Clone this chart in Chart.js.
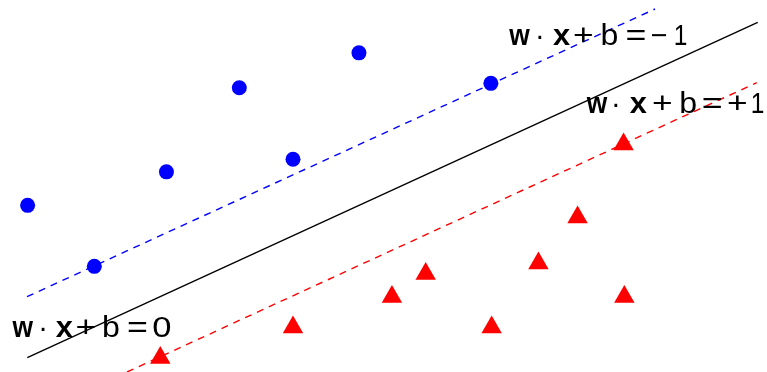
<!DOCTYPE html>
<html>
<head>
<meta charset="utf-8">
<script src="https://cdn.jsdelivr.net/npm/chart.js@4/dist/chart.umd.min.js"></script>
<style>
  html, body { margin: 0; padding: 0; background: #ffffff; }
  #wrap { width: 767px; height: 372px; }
</style>
</head>
<body>
<div id="wrap"><canvas id="c" width="767" height="372"></canvas></div>
<script>
// ---- data (abstract units: x 0..10, y 0..5) ----
const blueX = [0.36, 1.23, 2.17, 3.12, 3.82, 4.68, 6.40];
const blueY = [2.24, 1.42, 2.69, 3.82, 2.86, 4.29, 3.88];

const redX = [2.09, 3.82, 5.11, 5.55, 6.41, 7.02, 7.53, 8.14, 8.13];
const redY = [0.19, 0.60, 1.01, 1.32, 0.60, 1.46, 2.08, 1.01, 3.06];

const hyperX = [0.356, 9.879];   // w·x+b = 0
const hyperY = [0.192, 4.700];
const minusX = [0.352, 8.540];   // w·x+b = -1
const minusY = [1.012, 4.879];
const plusX  = [1.656, 9.866];   // w·x+b = +1
const plusY  = [0.000, 3.888];

// label texts (glyph by glyph)
const label0 = ["w", "·", "x", "+", "b", "=", "0"];
const labelM = ["w", "·", "x", "+", "b", "=", "−", "1"];
const labelP = ["w", "·", "x", "+", "b", "=", "+", "1"];
const boldGlyphs = ["w", "x"];
const labelAnchorX = [0.293, 6.77, 7.78];
const labelAnchorY = [0.474, 4.40, 3.48];

// ---- styling / layout (not data) ----
const offs0 = [0, 20.8, 41.7, 63.3, 88.3, 115, 139.2];
const offsM = [0, 20.8, 42.3, 64.1, 90.1, 116.6, 140, 161.6];
const offsP = [0, 19.3, 41.6, 65.6, 91.3, 115.6, 140.6, 161.3];
// target ink widths (px) of glyphs in the reference typesetting
const inkWidth = { "w": 21.8, "x": 17, "+": 18.3, "b": 15.5, "=": 18.5, "−": 15, "1": 11, "0": 16.7 };
const labels = [
  {glyphs: label0, offs: offs0},
  {glyphs: labelM, offs: offsM},
  {glyphs: labelP, offs: offsP}
];
const FONT = '"Liberation Sans", Arial, Helvetica, sans-serif';
const FSIZE = 29;

const pts = (xs, ys) => xs.map((x, i) => ({x: x, y: ys[i]}));

const labelPlugin = {
  id: 'svmLabels',
  afterDatasetsDraw(chart) {
    const ctx = chart.ctx;
    const xs = chart.scales.x, ys = chart.scales.y;
    ctx.save();
    ctx.fillStyle = '#000000';
    ctx.textAlign = 'left';
    ctx.textBaseline = 'alphabetic';
    labels.forEach((lab, li) => {
      const ax = xs.getPixelForValue(labelAnchorX[li]);
      const ay = ys.getPixelForValue(labelAnchorY[li]);
      lab.glyphs.forEach((g, gi) => {
        const bold = boldGlyphs.includes(g);
        ctx.font = (bold ? 'bold ' : '') + FSIZE + 'px ' + FONT;
        const m = ctx.measureText(g);
        const w = m.actualBoundingBoxRight + m.actualBoundingBoxLeft;
        const inkC = (m.actualBoundingBoxRight - m.actualBoundingBoxLeft) / 2;
        const sx = inkWidth[g] && w > 0 ? inkWidth[g] / w : 1;
        ctx.save();
        ctx.translate(ax + lab.offs[gi], ay);
        ctx.scale(sx, 1);
        ctx.fillText(g, -inkC, 0);
        ctx.restore();
      });
    });
    ctx.restore();
  }
};

new Chart(document.getElementById('c'), {
  type: 'scatter',
  data: {
    datasets: [
      {
        label: 'w·x+b=0',
        data: pts(hyperX, hyperY),
        showLine: true,
        borderColor: '#000000',
        borderWidth: 1.4,
        pointRadius: 0,
        clip: false
      },
      {
        label: 'w·x+b=-1',
        data: pts(minusX, minusY),
        showLine: true,
        borderColor: '#0000ff',
        borderWidth: 1.4,
        borderDash: [7, 6],
        pointRadius: 0,
        clip: false
      },
      {
        label: 'w·x+b=+1',
        data: pts(plusX, plusY),
        showLine: true,
        borderColor: '#ff0000',
        borderWidth: 1.4,
        borderDash: [7, 6],
        pointRadius: 0,
        clip: false
      },
      {
        label: 'class -1',
        data: pts(blueX, blueY),
        pointStyle: 'circle',
        pointRadius: 7.5,
        pointBackgroundColor: '#0000ff',
        pointBorderWidth: 0,
        showLine: false,
        clip: false
      },
      {
        label: 'class +1',
        data: pts(redX, redY),
        pointStyle: 'triangle',
        pointRadius: 11.8,
        pointBackgroundColor: '#ff0000',
        pointBorderWidth: 0,
        showLine: false,
        clip: false
      }
    ]
  },
  options: {
    responsive: false,
    animation: false,
    layout: { padding: 0, autoPadding: false },
    plugins: { legend: { display: false }, tooltip: { enabled: false } },
    scales: {
      x: { type: 'linear', min: 0, max: 10, display: false },
      y: { type: 'linear', min: 0, max: 5, display: false }
    }
  },
  plugins: [labelPlugin]
});
</script>
</body>
</html>
